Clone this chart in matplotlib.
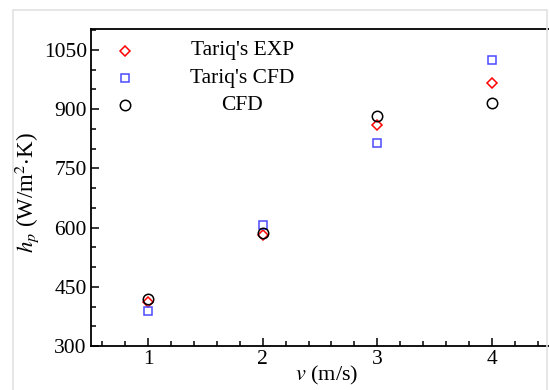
import matplotlib
matplotlib.use("Agg")
import matplotlib.pyplot as plt
from matplotlib.patches import Rectangle
from matplotlib.ticker import MultipleLocator

plt.rcParams['font.family'] = ['Liberation Serif', 'DejaVu Serif']
plt.rcParams['mathtext.fontset'] = 'stix'

# données
v = [1, 2, 3, 4]
exp_tariq = [412, 582, 860, 966]
cfd_tariq = [388, 607, 815, 1025]
cfd = [418, 587, 883, 916]

labels = ["Tariq's EXP", "Tariq's CFD", "CFD"]
markers = ['D', 's', 'o']
colors = ['#ff0000', '#4a4aff', '#000000']
sizes = [5.0, 6, 7.5]
series = [exp_tariq, cfd_tariq, cfd]

fs = 15.5

fig = plt.figure(figsize=(5.49, 3.90), dpi=100)

# cadre gris clair autour de la figure
fig.patches.append(Rectangle((0.0228, -0.05), 0.974, 1.024, transform=fig.transFigure,
                             fill=False, edgecolor='#e2e2e2', linewidth=1.2))

ax = fig.add_axes([0.1658, 0.1128, 0.8342, 0.8128])

for y, m, c, s in zip(series, markers, colors, sizes):
    ax.plot(v, y, linestyle='none', marker=m, markersize=s,
            markerfacecolor='none', markeredgecolor=c, markeredgewidth=1.1, clip_on=False)

ax.set_xlim(0.5, 4.5)
ax.set_ylim(300, 1103)
ax.xaxis.set_major_locator(MultipleLocator(1))
ax.xaxis.set_minor_locator(MultipleLocator(0.2))
ax.yaxis.set_major_locator(MultipleLocator(150))
ax.yaxis.set_minor_locator(MultipleLocator(50))
ax.tick_params(which='both', direction='in', top=False, right=False, labelsize=fs, width=1.1)
ax.tick_params(which='major', length=6, pad=3)
ax.tick_params(which='minor', length=3.5)
for sp in ax.spines.values():
    sp.set_linewidth(1.3)
ax.spines['right'].set_visible(False)

ax.set_xlabel(r'$v$ (m/s)', fontsize=16)
ax.set_ylabel(r'$h_p$ (W/m$^2$$\cdot$K)', fontsize=16.5)
ax.xaxis.set_label_coords(0.515, -0.058)
ax.yaxis.set_label_coords(-0.11, 0.483)

# légende : marqueurs à gauche, texte centré
leg_y = [0.932, 0.845, 0.760]
for y, lab, m, c, s in zip(leg_y, labels, markers, colors, sizes):
    ax.plot([0.074], [y], transform=ax.transAxes, linestyle='none', marker=m,
            markersize=s, markerfacecolor='none',
            markeredgecolor=c, markeredgewidth=1.1, clip_on=False)
    ax.text(0.33, y, lab, transform=ax.transAxes, ha='center', va='center', fontsize=fs)

fig.savefig('out.png', dpi=100)
